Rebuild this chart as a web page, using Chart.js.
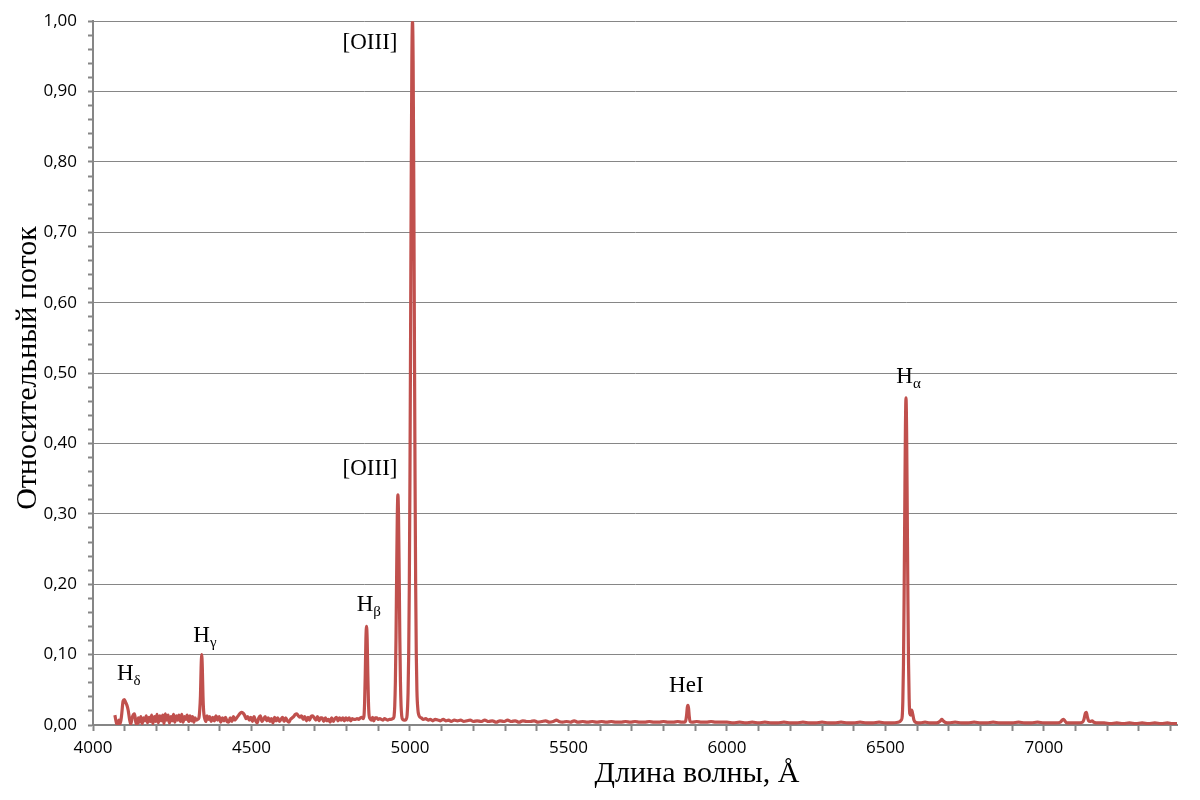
<!DOCTYPE html>
<html>
<head>
<meta charset="utf-8">
<script src="https://cdn.jsdelivr.net/npm/chart.js@4"></script>
<style>
    html, body { margin: 0; padding: 0; background: #fff; }
    #wrap { width: 1200px; height: 800px; }
</style>
</head>
<body>
<div id="wrap"><canvas id="spectrumChart" width="1200" height="800"></canvas></div>
<script>
// Spectrum (wavelength in Å, relative flux)
const wavelength = [
    4069, 4074, 4078, 4082, 4086, 4090, 4095, 4099, 4103, 4107,
    4111, 4115, 4119, 4124, 4128, 4131, 4135, 4139, 4143, 4147,
    4151, 4155, 4160, 4164, 4168, 4172, 4177, 4181, 4185, 4189,
    4194, 4198, 4202, 4206, 4211, 4215, 4220, 4224, 4228, 4232,
    4237, 4241, 4246, 4250, 4254, 4258, 4263, 4267, 4271, 4276,
    4280, 4284, 4289, 4293, 4297, 4302, 4306, 4310, 4314, 4318,
    4322, 4326, 4330, 4334, 4336, 4339, 4341, 4343, 4345, 4347,
    4349, 4352, 4356, 4360, 4364, 4368, 4373, 4378, 4383, 4388,
    4393, 4398, 4403, 4408, 4413, 4418, 4423, 4428, 4433, 4438,
    4443, 4448, 4453, 4458, 4463, 4468, 4473, 4478, 4483, 4488,
    4493, 4498, 4503, 4508, 4513, 4518, 4523, 4528, 4533, 4538,
    4543, 4548, 4553, 4558, 4563, 4568, 4573, 4578, 4583, 4588,
    4593, 4598, 4603, 4608, 4613, 4618, 4623, 4628, 4633, 4638,
    4643, 4648, 4653, 4658, 4663, 4668, 4673, 4678, 4683, 4688,
    4693, 4698, 4703, 4708, 4713, 4718, 4723, 4728, 4733, 4738,
    4743, 4748, 4753, 4758, 4763, 4768, 4773, 4778, 4783, 4788,
    4793, 4798, 4803, 4808, 4813, 4818, 4823, 4828, 4833, 4838,
    4843, 4848, 4852, 4855, 4857, 4859, 4861, 4863, 4865, 4867,
    4869, 4871, 4874, 4878, 4882, 4886, 4890, 4895, 4900, 4905,
    4910, 4915, 4920, 4925, 4930, 4935, 4940, 4945, 4948, 4950,
    4952, 4954, 4956, 4958, 4960, 4962, 4964, 4966, 4968, 4970,
    4972, 4974, 4977, 4981, 4985, 4988, 4991, 4994, 4996, 4998,
    5000, 5002, 5004, 5006, 5008, 5010, 5012, 5014, 5016, 5018,
    5020, 5022, 5025, 5028, 5032, 5036, 5042, 5050, 5057, 5064,
    5072, 5080, 5088, 5096, 5105, 5113, 5122, 5130, 5140, 5150,
    5160, 5170, 5180, 5190, 5200, 5212, 5224, 5236, 5248, 5260,
    5272, 5284, 5296, 5308, 5320, 5332, 5344, 5356, 5368, 5380,
    5392, 5404, 5416, 5428, 5440, 5452, 5462, 5470, 5482, 5494,
    5506, 5518, 5530, 5545, 5560, 5575, 5590, 5605, 5620, 5635,
    5650, 5665, 5680, 5695, 5710, 5725, 5740, 5755, 5770, 5785,
    5800, 5815, 5830, 5845, 5858, 5866, 5870, 5873, 5875, 5877,
    5879, 5881, 5884, 5890, 5905, 5920, 5935, 5950, 5965, 5980,
    6000, 6020, 6040, 6060, 6080, 6100, 6120, 6140, 6160, 6180,
    6200, 6220, 6240, 6260, 6280, 6300, 6320, 6340, 6360, 6380,
    6400, 6420, 6440, 6460, 6480, 6500, 6520, 6540, 6546, 6550,
    6553, 6555, 6557, 6559, 6561, 6563, 6565, 6567, 6569, 6571,
    6573, 6575, 6577, 6580, 6583, 6586, 6590, 6595, 6610, 6625,
    6640, 6655, 6668, 6674, 6678, 6682, 6688, 6700, 6720, 6740,
    6760, 6780, 6800, 6820, 6840, 6860, 6880, 6900, 6920, 6940,
    6960, 6980, 7000, 7020, 7040, 7052, 7058, 7062, 7066, 7072,
    7090, 7110, 7122, 7127, 7131, 7134, 7137, 7141, 7146, 7152,
    7158, 7170, 7190, 7210, 7230, 7250, 7270, 7290, 7310, 7330,
    7350, 7370, 7390, 7405, 7420
];

const flux = [
    .014, .003, .001, .007, .002, .013, .034, .036, .032, .028,
    .021, .009, .001, .011, .015, .016, .004, .000, .010, .004,
    .012, .002, .010, .006, .013, .003, .011, .005, .014, .002,
    .012, .005, .015, .003, .013, .006, .014, .002, .016, .007,
    .014, .003, .012, .006, .015, .004, .013, .007, .014, .005,
    .015, .004, .012, .008, .014, .005, .013, .006, .012, .004,
    .010, .007, .008, .010, .017, .041, .080, .100, .080, .041,
    .020, .010, .005, .013, .008, .012, .005, .011, .006, .013,
    .007, .012, .004, .010, .006, .011, .005, .004, .010, .005,
    .012, .007, .010, .013, .016, .018, .017, .014, .009, .012,
    .007, .011, .005, .012, .006, .003, .010, .013, .005, .008,
    .012, .006, .010, .005, .009, .003, .011, .006, .010, .005,
    .008, .011, .005, .010, .006, .004, .008, .010, .012, .015,
    .016, .013, .011, .013, .008, .012, .006, .011, .007, .012,
    .013, .010, .007, .012, .006, .010, .010, .005, .010, .006,
    .008, .004, .010, .005, .009, .011, .006, .010, .007, .010,
    .006, .010, .007, .010, .006, .009, .008, .008, .009, .008,
    .010, .011, .009, .013, .033, .073, .122, .140, .122, .073,
    .033, .014, .009, .007, .011, .006, .010, .010, .008, .009,
    .008, .007, .009, .008, .007, .008, .008, .009, .010, .013,
    .027, .061, .125, .215, .295, .327, .295, .215, .125, .061,
    .027, .013, .008, .007, .007, .008, .014, .046, .100, .199,
    .354, .559, .775, .943, 1.000, .943, .775, .559, .354, .199,
    .100, .048, .022, .014, .011, .010, .008, .009, .007, .008,
    .006, .008, .007, .006, .008, .006, .007, .005, .007, .006,
    .007, .005, .006, .007, .005, .006, .005, .007, .005, .006,
    .004, .006, .005, .007, .005, .006, .004, .006, .005, .005,
    .006, .004, .005, .006, .004, .005, .007, .005, .004, .005,
    .004, .006, .004, .005, .004, .005, .004, .005, .004, .005,
    .004, .004, .005, .004, .005, .004, .004, .005, .004, .004,
    .005, .004, .004, .005, .004, .004, .006, .015, .025, .028,
    .024, .013, .005, .004, .005, .004, .004, .005, .004, .004,
    .004, .003, .004, .003, .004, .003, .004, .003, .003, .004,
    .003, .003, .004, .003, .003, .004, .003, .003, .004, .003,
    .003, .004, .003, .003, .004, .003, .003, .004, .005, .007,
    .012, .034, .086, .180, .300, .415, .465, .415, .300, .180,
    .088, .037, .016, .014, .021, .016, .007, .004, .003, .004,
    .003, .003, .004, .006, .008, .006, .004, .003, .004, .003,
    .003, .004, .003, .003, .004, .003, .003, .003, .004, .003,
    .003, .004, .003, .003, .003, .004, .007, .008, .006, .003,
    .003, .003, .004, .009, .017, .018, .012, .006, .005, .006,
    .004, .003, .003, .002, .003, .002, .003, .002, .003, .002,
    .003, .002, .003, .002, .002
];

// Emission line labels: name, subscript, anchor (Å, flux)
const lineNames = ['H', 'H', 'H', '[OIII]', '[OIII]', 'HeI', 'H'];
const lineSubs = ['δ', 'γ', 'β', '', '', '', 'α'];
const lineLabelX = [4113, 4353, 4870, 4874, 4874, 5872, 6573];
const lineLabelY = [0.072, 0.126, 0.170, 0.364, 0.969, 0.055, 0.495];

const xTitle = 'Длина волны, Å';
const yTitle = 'Относительный поток';

if (wavelength.length !== flux.length) {
    console.warn('length mismatch', wavelength.length, flux.length);
}

const points = wavelength.map((w, i) => ({ x: w, y: flux[i] }));

const axisGray = '#868686';
const serif = '"Liberation Serif", "Times New Roman", serif';

const isMajorY = v => Math.round(v * 100) % 10 === 0;

const labelsPlugin = {
    id: 'lineLabels',
    afterDraw(chart) {
        const { ctx, scales: { x, y } } = chart;
        ctx.save();
        ctx.fillStyle = '#000';
        ctx.textBaseline = 'middle';
        ctx.textAlign = 'left';
        lineNames.forEach((name, i) => {
            ctx.font = '23px ' + serif;
            const w1 = ctx.measureText(name).width;
            ctx.font = '15px ' + serif;
            const w2 = lineSubs[i] ? ctx.measureText(lineSubs[i]).width : 0;
            const px = x.getPixelForValue(lineLabelX[i]) - (w1 + w2) / 2;
            const py = y.getPixelForValue(lineLabelY[i]);
            ctx.font = '23px ' + serif;
            ctx.fillText(name, px, py);
            if (lineSubs[i]) {
                ctx.font = '15px ' + serif;
                ctx.fillText(lineSubs[i], px + w1, py + 7);
            }
        });

        // axis titles
        ctx.font = '30px ' + serif;
        ctx.textAlign = 'center';
        ctx.fillText(xTitle, 697, 774);
        ctx.translate(28, 368);
        ctx.rotate(-Math.PI / 2);
        ctx.fillText(yTitle, 0, 0);
        ctx.restore();
    }
};

const ctx = document.getElementById('spectrumChart').getContext('2d');
const spectrumChart = new Chart(ctx, {
    type: 'line',
    data: {
        datasets: [{
            data: points,
            borderColor: '#C0504D',
            borderWidth: 3.2,
            pointRadius: 0,
            cubicInterpolationMode: 'monotone',
            fill: false
        }]
    },
    options: {
        responsive: false,
        animation: false,
        devicePixelRatio: 1,
        layout: { padding: { left: 0, top: 21, right: 23, bottom: 0 } },
        plugins: {
            legend: { display: false },
            tooltip: { enabled: false }
        },
        scales: {
            x: {
                type: 'linear',
                min: 4000,
                max: 7420,
                afterFit: scale => { scale.height = 75; },
                border: { color: axisGray, width: 2 },
                grid: {
                    drawOnChartArea: false,
                    tickLength: 6,
                    tickColor: axisGray,
                    tickWidth: 2
                },
                ticks: {
                    stepSize: 100,
                    autoSkip: false,
                    maxRotation: 0,
                    includeBounds: false,
                    padding: 7,
                    color: '#000',
                    font: { family: '"Open Sans"', size: 17 },
                    callback: v => (v % 500 === 0 ? String(v) : '')
                }
            },
            y: {
                min: 0,
                max: 1,
                afterFit: scale => { scale.width = 93; },
                border: { color: axisGray, width: 2 },
                grid: {
                    color: c => (c.tick && isMajorY(c.tick.value) ? axisGray : 'rgba(0,0,0,0)'),
                    lineWidth: 1,
                    tickLength: 5,
                    tickColor: axisGray,
                    tickWidth: 2
                },
                ticks: {
                    stepSize: 0.02,
                    autoSkip: false,
                    padding: 11,
                    color: '#000',
                    font: { family: '"Open Sans"', size: 17 },
                    callback: v => (isMajorY(v) ? (Math.round(v * 100) / 100).toFixed(2).replace('.', ',') : '')
                }
            }
        }
    },
    plugins: [labelsPlugin]
});
</script>
</body>
</html>
